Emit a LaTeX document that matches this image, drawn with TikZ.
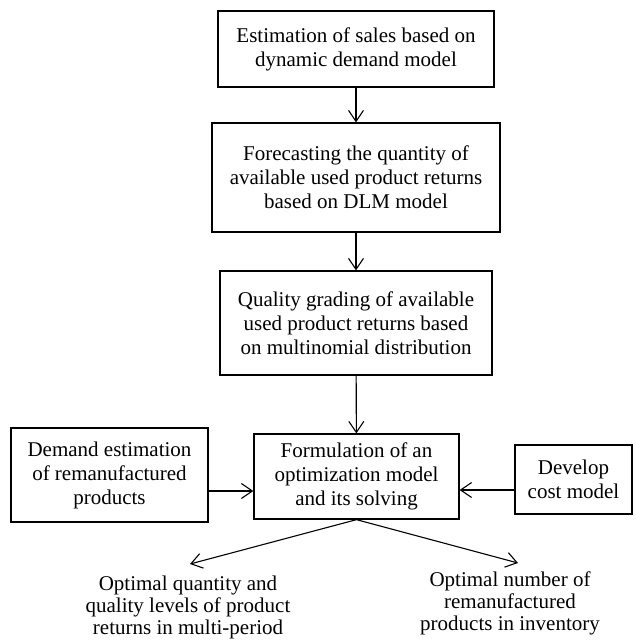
\documentclass[tikz,border=0pt]{standalone}
\usepackage{fontspec}
\setmainfont{Liberation Serif}
\usetikzlibrary{arrows.meta}

\tikzset{
  box/.style={draw, line width=1.3pt, align=center, inner sep=0pt},
  outtxt/.style={align=center, inner sep=0pt, font=\fontsize{21}{22}\selectfont},
  arr/.style={-{Straight Barb[length=11pt,width=15pt]}, line width=1.1pt},
}

\begin{document}
\begin{tikzpicture}[x=1pt, y=-1pt, font=\fontsize{21}{24}\selectfont]
\useasboundingbox (0,0) rectangle (635,640);
% main column
\node[box, minimum width=276pt, minimum height=76pt] (sales) at (356,49)
  {Estimation of sales based on\\dynamic demand model};
\node[box, minimum width=288pt, minimum height=109pt] (fcast) at (356,177.5)
  {Forecasting the quantity of\\available used product returns\\based on DLM model};
\node[box, minimum width=272pt, minimum height=104pt] (grade) at (356,323)
  {Quality grading of available\\used product returns based\\on multinomial distribution};
\node[box, minimum width=205pt, minimum height=85pt] (form) at (356.5,476.5)
  {Formulation of an\\optimization model\\and its solving};
% side inputs
\node[box, minimum width=197pt, minimum height=94pt] (demand) at (109.5,475)
  {Demand estimation\\of remanufactured\\products};
\node[box, minimum width=117pt, minimum height=69pt] (cost) at (573.5,479.5)
  {Develop\\cost model};
% outputs
\node[outtxt] (optq) at (188,607)
  {Optimal quantity and\\quality levels of product\\returns in multi-period};
\node[outtxt] (optn) at (510,603)
  {Optimal number of\\remanufactured\\products in inventory};
\coordinate (tipl) at (190,564);
\coordinate (tipr) at (518,563);

\draw[arr] (sales) -- (fcast);
\draw[arr] (fcast) -- (grade);
\draw[arr] (grade) -- (form);
\draw[arr] (demand.east |- 0,491) -- (form.west |- 0,491);
\draw[arr] (cost.west |- 0,490) -- (form.east |- 0,490);
\draw[arr] (form.south) -- (tipl);
\draw[arr] (form.south) -- (tipr);
\end{tikzpicture}
\end{document}
